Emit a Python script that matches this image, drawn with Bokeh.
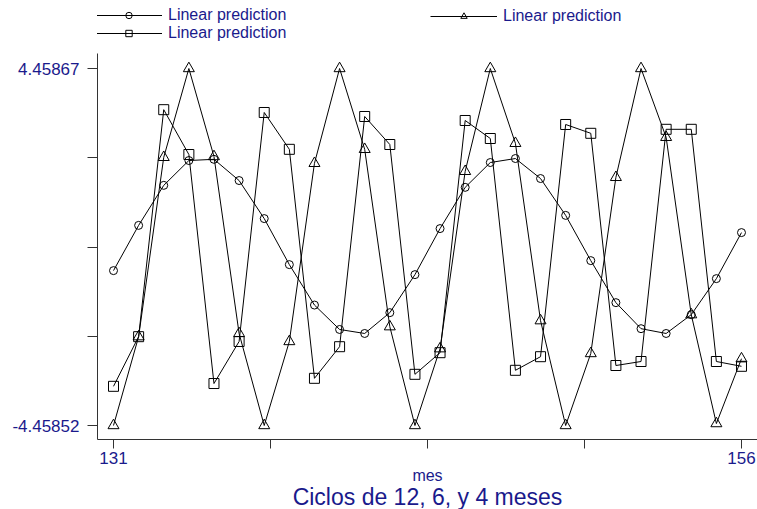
from bokeh.plotting import figure
from bokeh.models import Range1d, FixedTicker, Legend, LegendItem, Title
from bokeh.embed import file_html
from bokeh.resources import INLINE

# ---- data ----
meses = list(range(131, 157))
ciclo12 = [-0.59, 0.54, 1.54, 2.16, 2.19, 1.66, 0.71, -0.44, -1.45, -2.06,
           -2.16, -1.64, -0.69, 0.46, 1.49, 2.11, 2.21, 1.71, 0.79, -0.34,
           -1.39, -2.04, -2.16, -1.69, -0.79, 0.36]
ciclo6 = [-4.45852, -2.24, 2.24, 4.45867, 2.26, -2.16, -4.45852, -2.36, 2.09, 4.45867,
          2.44, -1.99, -4.45852, -2.54, 1.89, 4.45867, 2.59, -1.84, -4.45852, -2.66,
          1.74, 4.45867, 2.74, -1.69, -4.41, -2.79]
ciclo4 = [-3.48, -2.24, 3.43, 2.31, -3.41, -2.36, 3.36, 2.44, -3.28, -2.49,
          3.26, 2.56, -3.18, -2.64, 3.16, 2.71, -3.08, -2.74, 3.06, 2.84,
          -2.96, -2.86, 2.94, 2.94, -2.86, -2.98]
y_ticks = [-4.45852, -2.229225, 0.000075, 2.229375, 4.45867]
y_tick_labels = ["-4.45852", "", "", "", "4.45867"]
x_ticks = [131, 137.25, 143.5, 149.75, 156]
x_tick_labels = ["131", "", "", "", "156"]
legend_label = "Linear prediction"
x_title = "mes"
main_title = "Ciclos de 12, 6, y 4 meses"

NAVY = "#1a1a8c"
FONT = "Liberation Sans"

# frame spans the full top of the page so the legends (drawn inside it) are
# not clipped; the y axis line is bounded to the visible plot region.
Y_LO, Y_HI, Y_AXIS_TOP = -4.8082, 6.1572, 4.8333

p = figure(width=757, height=509, output_backend="svg", toolbar_location=None,
           x_range=Range1d(130.363, 156.637), y_range=Range1d(Y_LO, Y_HI),
           min_border_left=97, min_border_right=0, min_border_top=0,
           min_border_bottom=70)
p.outline_line_color = None
p.grid.visible = False
p.background_fill_color = "white"
p.border_fill_color = "white"

r1l = p.line(meses, ciclo12, line_color="black", line_width=1)
r1s = p.scatter(meses, ciclo12, marker="circle", size=8, fill_color=None,
                line_color="black", line_width=1)
r2l = p.line(meses, ciclo6, line_color="black", line_width=1)
r2s = p.scatter(meses, ciclo6, marker="triangle", size=11, fill_color=None,
                line_color="black", line_width=1)
r3l = p.line(meses, ciclo4, line_color="black", line_width=1)
r3s = p.scatter(meses, ciclo4, marker="square", size=10, fill_color=None,
                line_color="black", line_width=1)

# axes
yax = p.yaxis[0]
yax.bounds = (Y_LO, Y_AXIS_TOP)
yax.ticker = FixedTicker(ticks=y_ticks)
yax.major_label_overrides = {t: l for t, l in zip(y_ticks, y_tick_labels)}
yax.major_tick_out = 10
yax.major_tick_in = 0
yax.minor_tick_out = 0
yax.minor_tick_in = 0
yax.major_label_standoff = 8
yax.major_label_text_font = FONT
yax.major_label_text_font_size = "17px"
yax.major_label_text_color = NAVY
yax.axis_line_color = "#333333"
yax.major_tick_line_color = "#333333"

xax = p.xaxis[0]
xax.ticker = FixedTicker(ticks=x_ticks)
xax.major_label_overrides = {t: l for t, l in zip(x_ticks, x_tick_labels)}
xax.major_tick_out = 9
xax.major_tick_in = 0
xax.minor_tick_out = 0
xax.minor_tick_in = 0
xax.major_label_standoff = 3
xax.major_label_text_font = FONT
xax.major_label_text_font_size = "17px"
xax.major_label_text_color = NAVY
xax.axis_line_color = "#333333"
xax.major_tick_line_color = "#333333"
xax.axis_label = x_title
xax.axis_label_standoff = 0
xax.axis_label_text_font = FONT
xax.axis_label_text_font_size = "16px"
xax.axis_label_text_font_style = "normal"
xax.axis_label_text_color = NAVY

t = Title(text=main_title, align="center", text_font=FONT,
          text_font_size="23px", text_font_style="normal", text_color=NAVY,
          standoff=-9, offset=0)
p.add_layout(t, "below")

leg_style = dict(label_text_font=FONT, label_text_font_size="16px",
                 label_text_color=NAVY, glyph_width=67, glyph_height=16,
                 label_height=16, label_standoff=6, spacing=0, padding=0,
                 margin=0, background_fill_alpha=0, border_line_color=None)
leg1 = Legend(items=[LegendItem(label=legend_label, renderers=[r1l, r1s]),
                     LegendItem(label=legend_label, renderers=[r3l, r3s])],
              location=(-2, 397), **leg_style)
leg2 = Legend(items=[LegendItem(label=legend_label, renderers=[r2l, r2s])],
              location=(333, 414), **leg_style)
p.add_layout(leg1)
p.add_layout(leg2)

open("out.html", "w").write(file_html(p, INLINE))
